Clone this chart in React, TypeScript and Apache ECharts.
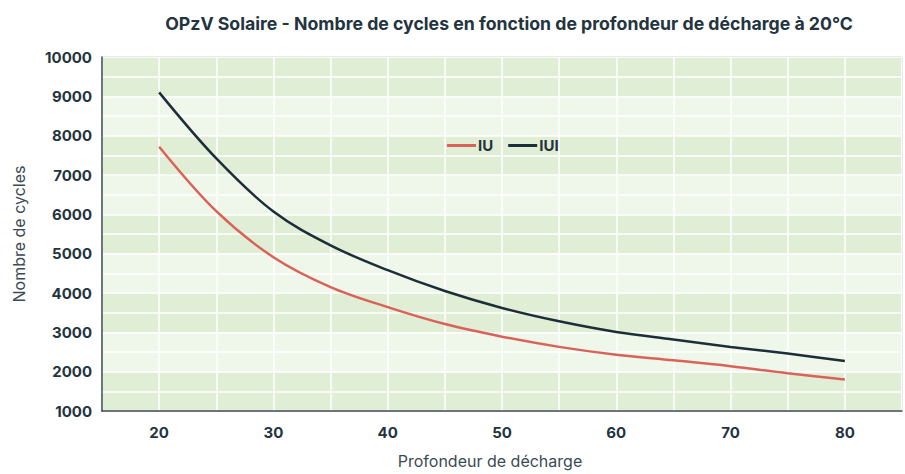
import React, { useEffect, useRef } from "react";
import * as echarts from "echarts";

const depth = [20, 25, 30, 35, 40, 45, 50, 55, 60, 65, 70, 75, 80];
const iuValues = [7720, 6080, 4910, 4150, 3640, 3210, 2890, 2630, 2430, 2290, 2140, 1960, 1800];
const iuiValues = [9100, 7420, 6070, 5210, 4580, 4050, 3620, 3280, 3010, 2820, 2630, 2460, 2270];
const seriesNames = ["IU", "IUI"];
const title = "OPzV Solaire - Nombre de cycles en fonction de profondeur de décharge à 20°C";
const xName = "Profondeur de décharge";
const yName = "Nombre de cycles";

export default function App() {
  const ref = useRef<HTMLDivElement>(null);
  useEffect(() => {
    if (!ref.current) return;
    const chart = echarts.init(ref.current, undefined, { renderer: "svg" });
    const dark = "#233440";
    chart.setOption({
      animation: false,
      backgroundColor: "#ffffff",
      title: {
        text: title,
        left: 504,
        top: 9,
        textAlign: "center",
        textStyle: { fontFamily: "Inter", fontWeight: "bold", fontSize: 17.7, color: dark },
      },
      legend: {
        data: seriesNames,
        left: 442,
        top: 133,
        icon: "rect",
        itemWidth: 29,
        itemHeight: 3,
        itemGap: 15,
        textStyle: { fontFamily: "Inter", fontWeight: "bold", fontSize: 15, color: dark, padding: [0, 0, 0, -3] },
      },
      grid: {
        left: 102,
        top: 57,
        right: 3,
        bottom: 63,
        show: true,
        borderColor: "#3e4c56",
        borderWidth: 1,
      },
      xAxis: {
        type: "value",
        min: 15,
        max: 85,
        interval: 5,
        name: xName,
        nameLocation: "middle",
        nameGap: 42,
        nameTextStyle: { fontFamily: "Inter", fontSize: 16, color: "#3b4a54", padding: [0, 24, 0, 0] },
        axisLine: { show: true, lineStyle: { color: "#3e4c56", width: 1.5 } },
        axisTick: { show: false },
        axisLabel: {
          margin: 14,
          fontFamily: "Inter",
          fontWeight: "bold",
          fontSize: 15,
          color: dark,
          formatter: (v: number) => (v % 10 === 0 ? String(v) : ""),
        },
        splitLine: { show: true, lineStyle: { color: "#ffffff", width: 1.5 } },
      },
      yAxis: {
        type: "value",
        min: 1000,
        max: 10000,
        interval: 1000,
        name: yName,
        nameLocation: "middle",
        nameGap: 75,
        nameTextStyle: { fontFamily: "Inter", fontSize: 16, color: "#3b4a54" },
        axisLine: { show: true, lineStyle: { color: "#3e4c56", width: 1.5 } },
        axisTick: { show: false },
        axisLabel: {
          margin: 10,
          fontFamily: "Inter",
          fontWeight: "bold",
          fontSize: 15,
          color: dark,
          formatter: (v: number) => String(v),
        },
        splitLine: { show: true, lineStyle: { color: "#ffffff", width: 1.5 } },
        minorTick: { show: false, splitNumber: 2 },
        minorSplitLine: { show: true, lineStyle: { color: "#ffffff", width: 1.5 } },
        splitArea: { show: true, areaStyle: { color: ["#e1eed6", "#eff6ea"] } },
      },
      series: [
        {
          name: seriesNames[0],
          type: "line",
          smooth: 0.35,
          showSymbol: false,
          symbol: "none",
          color: "#d9635a",
          lineStyle: { color: "#d9635a", width: 2.5 },
          data: depth.map((d, i) => [d, iuValues[i]]),
        },
        {
          name: seriesNames[1],
          type: "line",
          smooth: 0.35,
          showSymbol: false,
          symbol: "none",
          color: "#1e2e39",
          lineStyle: { color: "#1e2e39", width: 2.5 },
          data: depth.map((d, i) => [d, iuiValues[i]]),
        },
      ],
    });
    return () => chart.dispose();
  }, []);
  return <div ref={ref} style={{ width: 905, height: 474, position: "absolute", left: 0, top: 0 }} />;
}
